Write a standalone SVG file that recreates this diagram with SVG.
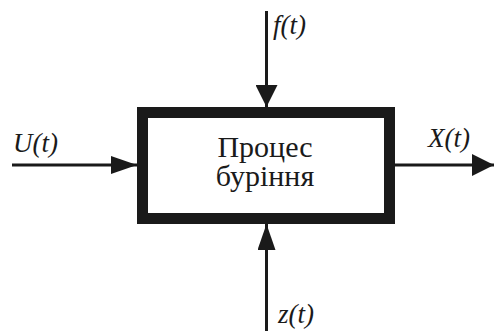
<svg xmlns="http://www.w3.org/2000/svg" width="494" height="331" viewBox="0 0 494 331">
<defs>
<marker id="arr" viewBox="0 0 26 18" refX="26" refY="9" markerWidth="26" markerHeight="18" markerUnits="userSpaceOnUse" orient="auto">
<polygon points="0,0 26,9 0,18" fill="#1a1a1a"/>
</marker>
<marker id="arrS" viewBox="0 0 22 22" refX="22" refY="11" markerWidth="22" markerHeight="22" markerUnits="userSpaceOnUse" orient="auto">
<polygon points="0,0 22,11 0,22" fill="#1a1a1a"/>
</marker>
</defs>
<rect width="494" height="331" fill="#ffffff"/>
<g id="connectors" stroke="#1a1a1a" stroke-width="3" fill="none">
<line x1="266.5" y1="11" x2="266.5" y2="107" marker-end="url(#arrS)"/>
<line x1="266.5" y1="331" x2="266.5" y2="224" marker-end="url(#arr)"/>
<line x1="12" y1="165" x2="137" y2="165" marker-end="url(#arr)"/>
<line x1="395" y1="165" x2="494" y2="165" marker-end="url(#arrS)"/>
</g>
<g id="process">
<rect x="142.5" y="112.5" width="247" height="106" fill="#ffffff" stroke="#1a1a1a" stroke-width="11"/>
<text x="265" y="157" style="font-family:'Times New Roman','Liberation Serif',serif;font-size:30px;fill:#1a1a1a;text-anchor:middle">Процес</text>
<text x="265" y="186" style="font-family:'Times New Roman','Liberation Serif',serif;font-size:30px;fill:#1a1a1a;text-anchor:middle">буріння</text>
</g>
<g id="labels">
<text x="273" y="34" style="font-family:'Times New Roman','Liberation Serif',serif;font-style:italic;font-size:27px;fill:#1a1a1a">f(t)</text>
<text x="13" y="152" style="font-family:'Times New Roman','Liberation Serif',serif;font-style:italic;font-size:27px;fill:#1a1a1a">U(t)</text>
<text x="428" y="147" style="font-family:'Times New Roman','Liberation Serif',serif;font-style:italic;font-size:27px;fill:#1a1a1a">X(t)</text>
<text x="278" y="323" style="font-family:'Times New Roman','Liberation Serif',serif;font-style:italic;font-size:27px;fill:#1a1a1a">z(t)</text>
</g>
</svg>
